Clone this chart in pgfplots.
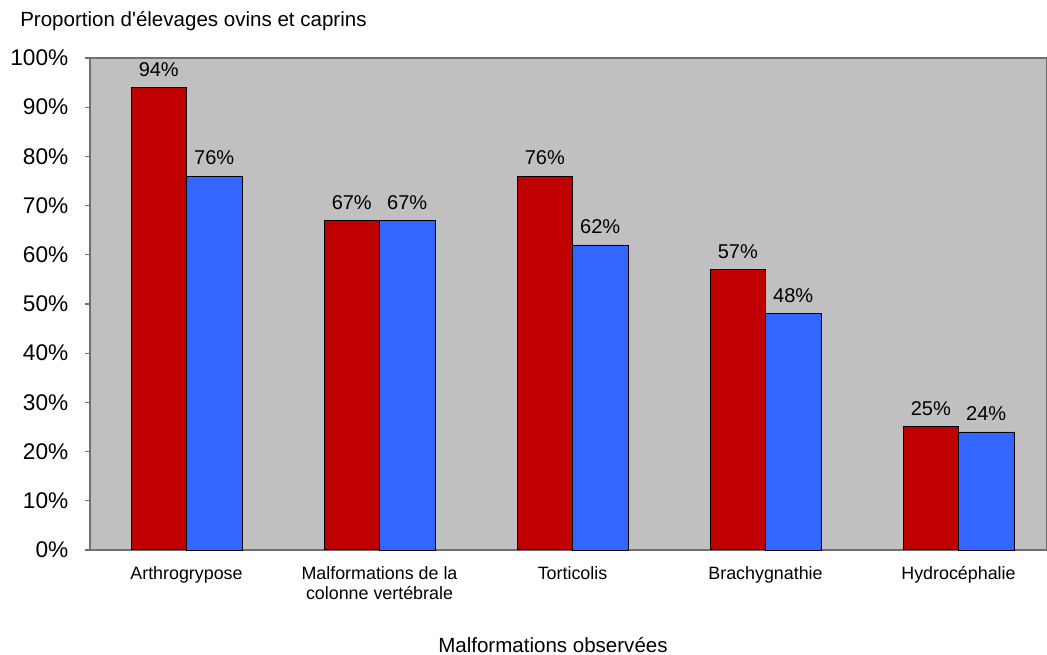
\documentclass[border=0pt]{standalone}
\usepackage{pgfplots}
\pgfplotsset{compat=1.18}
\usepackage{fontspec}
\setmainfont{Liberation Sans}[Ligatures=TeXOff]
\definecolor{bred}{HTML}{C00000}
\definecolor{bblue}{HTML}{3366FF}
\definecolor{bgray}{HTML}{C0C0C0}
\definecolor{axgray}{HTML}{707070}
\begin{document}
\begin{tikzpicture}
\begin{axis}[
  name=ax,
  scale only axis,
  width=717.75pt, height=369pt,
  xmin=-0.5, xmax=4.4585,
  ymin=0, ymax=100,
  axis background/.style={fill=bgray},
  axis line style={draw=axgray, line width=1pt},
  ybar,
  bar width=41.6pt,
  ytick={0,10,...,100},
  yticklabels={0\%,10\%,20\%,30\%,40\%,50\%,60\%,70\%,80\%,90\%,100\%},
  yticklabel style={font=\fontsize{17}{20}\selectfont, xshift=-8.75pt},
  xtick={0,1,2,3,4},
  xticklabels={\strut Arthrogrypose, {\strut Malformations de la\\colonne vertébrale}, \strut Torticolis, \strut Brachygnathie, \strut Hydrocéphalie},
  xticklabel style={font=\fontsize{13.4}{15}\selectfont, align=center, yshift=-4pt},
  x tick style={draw=none},
  extra x ticks={-0.5,0.5,1.5,2.5,3.5},
  extra x tick labels={},
  extra x tick style={major tick length=4pt, tick style={draw=axgray, line width=0.8pt}, tick pos=left, tick align=outside},
  y tick style={draw=axgray, line width=0.8pt},
  major tick length=4pt,
  tick align=outside,
  tick pos=left,
  /pgf/number format/assume math mode=true,
  nodes near coords={\pgfmathprintnumber{\pgfplotspointmeta}\%},
  every node near coord/.append style={font=\fontsize{15}{18}\selectfont, anchor=base, yshift=8.5pt, text=black},
  clip=false,
]
\addplot[fill=bred, draw=black, line width=0.75pt, bar shift=-20.8pt] coordinates {(0,94) (1,67) (2,76) (3,57) (4,25)};
\addplot[fill=bblue, draw=black, line width=0.6pt, bar shift=20.8pt] coordinates {(0,76) (1,67) (2,62) (3,48) (4,24)};
\end{axis}
\node[anchor=base west, font=\fontsize{15.4}{18}\selectfont, inner sep=0] at ([xshift=-52.5pt, yshift=23.25pt]ax.north west) {Proportion d'élevages ovins et caprins};
\node[anchor=base west, font=\fontsize{15.4}{18}\selectfont, inner sep=0] at ([xshift=261pt, yshift=-76.5pt]ax.south west) {Malformations observées};
\pgfresetboundingbox
\path[use as bounding box] ([xshift=-67.5pt, yshift=-78.75pt]ax.south west) rectangle ([yshift=43.5pt]ax.north east);
\end{tikzpicture}
\end{document}
